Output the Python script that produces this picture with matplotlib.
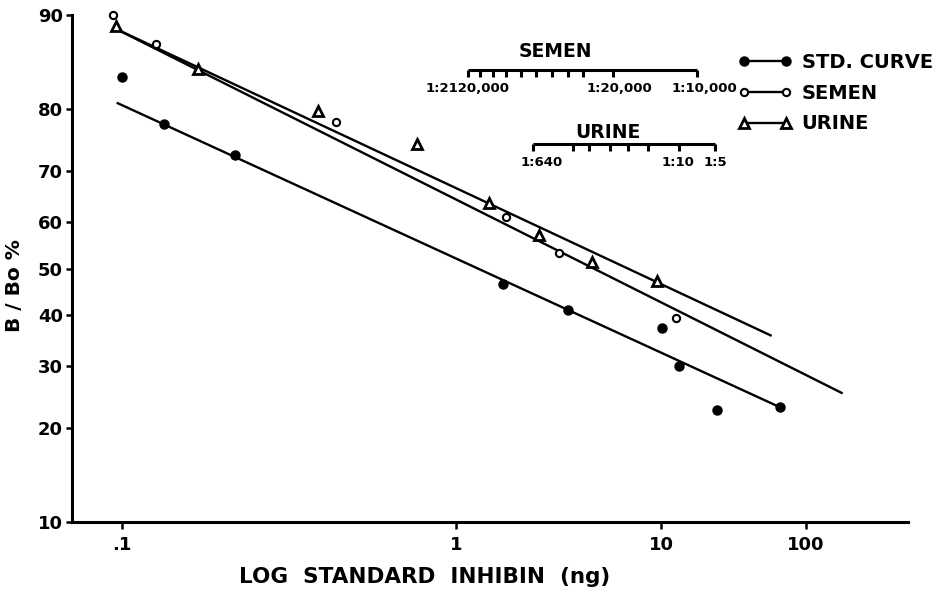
import numpy as np
import matplotlib
matplotlib.use("Agg")
import matplotlib.pyplot as plt
from matplotlib.lines import Line2D
from matplotlib.ticker import NullLocator, FixedLocator

plt.rcParams['font.family'] = ['DejaVu Sans']

# ---------------- data ----------------
std_x = [0.0998, 0.134, 0.218, 1.70, 3.53, 10.2, 13.4, 24.2, 66.2]
std_y = [84.0, 77.8, 72.7, 46.6, 41.1, 37.3, 30.1, 22.7, 23.1]

semen_x = [0.094, 0.126, 0.437, 1.75, 3.19, 12.6]
semen_y = [90.0, 87.5, 78.0, 61.0, 53.4, 39.5]

urine_x = [0.096, 0.169, 0.386, 0.763, 1.45, 2.55, 4.59, 9.53]
urine_y = [89.1, 84.9, 79.6, 74.6, 63.9, 57.3, 51.4, 47.4]

# fitted regression lines (end points)
std_fit_x = [0.0964, 66.2]
std_fit_y = [80.8, 23.1]
semen_fit_x = [0.0953, 179.0]
semen_fit_y = [88.9, 25.3]
urine_fit_x = [0.0953, 58.0]
urine_fit_y = [88.9, 35.8]

# dilution scales (positions expressed on the ng axis)
semen_scale_ticks = [1.148, 1.309, 1.510, 1.754, 2.069, 2.455, 2.931, 3.508, 4.150, 5.85, 17.6]
semen_scale_labels = ['1:2120,000', '1:20,000', '1:10,000']
semen_scale_label_x = [1.14, 6.24, 19.8]
urine_scale_ticks = [2.38, 3.71, 4.47, 5.64, 6.92, 8.67, 13.4, 23.6]
urine_scale_labels = ['1:640', '1:10', '1:5']
urine_scale_label_x = [2.62, 13.1, 23.6]

x_ticks = [0.1, 1, 10, 100]
x_ticklabels = ['.1', '1', '10', '100']
y_ticks = [10, 20, 30, 40, 50, 60, 70, 80, 90]
y_ticklabels = [str(v) for v in y_ticks]

# ---------------- scales ----------------
# hand-drawn log axis of the original: decades are not equally spaced
_L = np.array([-30.0, -1.0, 0.0, 1.0, 2.0, 30.0])
_P = np.array([122 - 29 * 334, 122, 456, 661, 806, 806 + 28 * 145], dtype=float)

def x_fwd(x):
    x = np.asarray(x, dtype=float)
    L = np.log10(np.clip(x, 1e-25, None))
    return np.interp(L, _L, _P)

def x_inv(p):
    p = np.asarray(p, dtype=float)
    return 10.0 ** np.interp(p, _P, _L)

def y_fwd(p):
    p = np.clip(np.asarray(p, dtype=float), 1e-9, 100 - 1e-9)
    return np.log(p / (100.0 - p))

def y_inv(z):
    z = np.asarray(z, dtype=float)
    return 100.0 / (1.0 + np.exp(-z))

W, H = 943, 592
fig = plt.figure(figsize=(W / 100, H / 100), dpi=100)
ax = fig.add_axes([72 / W, 1 - 522 / H, (908 - 72) / W, (522 - 15) / H])
ax.set_xscale('function', functions=(x_fwd, x_inv))
ax.set_yscale('function', functions=(y_fwd, y_inv))
ax.set_xlim(float(x_inv(72)), float(x_inv(908)))
ax.set_ylim(10, 90)

# ---------------- fitted lines ----------------
lw = 1.7
ax.plot(std_fit_x, std_fit_y, color='black', lw=lw, solid_capstyle='butt')
ax.plot(semen_fit_x, semen_fit_y, color='black', lw=lw, solid_capstyle='butt')
ax.plot(urine_fit_x, urine_fit_y, color='black', lw=lw, solid_capstyle='butt')

# ---------------- points ----------------
ax.plot(std_x, std_y, linestyle='none', marker='o', ms=6.5, mfc='black', mec='black', clip_on=False, zorder=3)
ax.plot(semen_x, semen_y, linestyle='none', marker='o', ms=5.2, mfc='white', mec='black', mew=1.5, clip_on=False, zorder=3)
ax.plot(urine_x, urine_y, linestyle='none', marker='^', ms=7, mfc='white', mec='black', mew=2.0, clip_on=False, zorder=3)

# ---------------- dilution scales ----------------
def draw_scale(ticks, y_line, y_lab, y_title, labels, label_x, title, title_x):
    ax.plot([ticks[0], ticks[-1]], [y_line, y_line], color='black', lw=2.2, solid_capstyle='butt')
    ax.plot(ticks, [y_line] * len(ticks), linestyle='none', marker=3, ms=5, mew=2.2, color='black')
    for t, xv in zip(labels, label_x):
        ax.text(xv, y_lab, t, ha='center', va='center', fontsize=9.5, fontweight='bold')
    ax.text(title_x, y_title, title, ha='center', va='center', fontsize=13.5, fontweight='bold')

draw_scale(semen_scale_ticks, 84.8, 82.6, 86.8, semen_scale_labels, semen_scale_label_x, 'SEMEN', 3.04)
draw_scale(urine_scale_ticks, 74.6, 71.4, 76.4, urine_scale_labels, urine_scale_label_x, 'URINE', 5.51)

# ---------------- axes styling ----------------
for s in ['top', 'right']:
    ax.spines[s].set_visible(False)
for s in ['left', 'bottom']:
    ax.spines[s].set_linewidth(2.2)

ax.xaxis.set_major_locator(FixedLocator(x_ticks))
ax.set_xticklabels(x_ticklabels, fontweight='bold')
ax.xaxis.set_minor_locator(NullLocator())
ax.yaxis.set_major_locator(FixedLocator(y_ticks))
ax.set_yticklabels(y_ticklabels, fontweight='bold')
ax.yaxis.set_minor_locator(NullLocator())
ax.tick_params(axis='x', direction='out', length=5, width=1.8, labelsize=13, pad=5)
ax.tick_params(axis='y', direction='out', length=4.5, width=1.8, labelsize=13, pad=2)

fig.text(425 / W, 1 - 577 / H, 'LOG  STANDARD  INHIBIN  (ng)', ha='center', va='center',
         fontsize=15.5, fontweight='bold')
fig.text(15 / W, 1 - 286 / H, 'B / Bo %', ha='center', va='center', rotation=90,
         fontsize=14.5, fontweight='bold')

# ---------------- legend ----------------
handles = [
    Line2D([], [], color='black', lw=1.7, marker='o', ms=6.5, mfc='black', mec='black'),
    Line2D([], [], color='black', lw=1.7, marker='o', ms=5.2, mfc='white', mec='black', mew=1.5),
    Line2D([], [], color='black', lw=1.7, marker='^', ms=7, mfc='white', mec='black', mew=2.0),
]
labels = ['STD. CURVE', 'SEMEN', 'URINE']
fs = 14
leg = fig.legend(handles, labels, loc='upper left', bbox_to_anchor=(737.7 / W, 1 - 53 / H),
                 bbox_transform=fig.transFigure, frameon=False, numpoints=2,
                 handlelength=2.78, handletextpad=0.51, labelspacing=0.6, borderpad=0,
                 borderaxespad=0, prop={'weight': 'bold', 'size': fs})

fig.savefig('out.png', dpi=100)
